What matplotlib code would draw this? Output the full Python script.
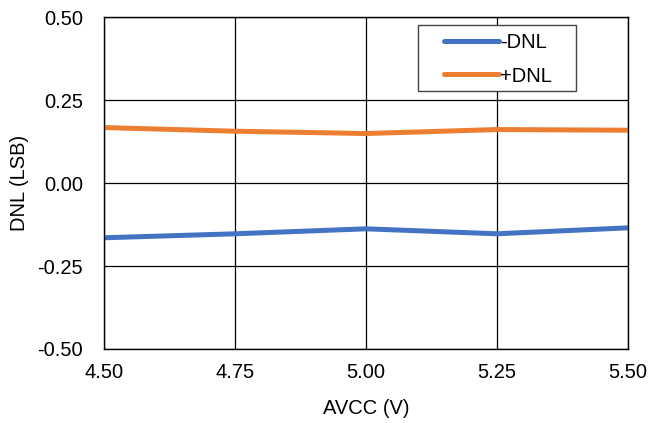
import matplotlib.pyplot as plt
from matplotlib.patches import Rectangle

plt.rcParams['font.family'] = ['Liberation Sans', 'DejaVu Sans']

avcc = [4.50, 4.75, 5.00, 5.25, 5.50]
dnl_neg = [-0.165, -0.153, -0.138, -0.153, -0.135]
dnl_pos = [0.167, 0.156, 0.149, 0.161, 0.159]
xticks = [4.50, 4.75, 5.00, 5.25, 5.50]
yticks = [-0.50, -0.25, 0.00, 0.25, 0.50]

fs = 14.5

fig = plt.figure(figsize=(6.5, 4.23), dpi=100)
ax = fig.add_axes([104 / 650, 1 - 349 / 423, 524 / 650, 332 / 423])

ax.plot(avcc, dnl_neg, color='#4472C4', lw=3.6, label='-DNL', solid_capstyle='round')
ax.plot(avcc, dnl_pos, color='#ED7D31', lw=3.6, label='+DNL', solid_capstyle='round')

ax.set_xlim(4.5, 5.5)
ax.set_ylim(-0.5, 0.5)
ax.set_xticks(xticks)
ax.set_yticks(yticks)
ax.set_xticklabels(['%.2f' % v for v in xticks], fontsize=fs)
ax.set_yticklabels(['%.2f' % v for v in yticks], fontsize=fs)
ax.tick_params(axis='x', length=0, pad=10)
ax.tick_params(axis='y', length=0, pad=15)
ax.grid(True, color='black', lw=0.9)
ax.set_axisbelow(True)
for s in ax.spines.values():
    s.set_color('black')
    s.set_linewidth(1)

ax.set_xlabel('AVCC (V)', fontsize=fs, labelpad=12)
ax.set_ylabel('DNL (LSB)', fontsize=fs, labelpad=6)

# legend box drawn separately so its padding can match
box = Rectangle((418 / 650, 1 - 91 / 423), 158 / 650, 66 / 423,
                transform=fig.transFigure, facecolor='white',
                edgecolor='#444444', lw=1, zorder=3, clip_on=False)
ax.add_patch(box)
leg = ax.legend(loc='upper left', bbox_to_anchor=(444 / 650, 1 - 33 / 423),
                bbox_transform=fig.transFigure, fontsize=fs, frameon=False,
                handlelength=2.75, handletextpad=0.05, borderpad=0,
                borderaxespad=0, labelspacing=0.72)
leg.set_zorder(4)

fig.savefig('out.png', dpi=100)
